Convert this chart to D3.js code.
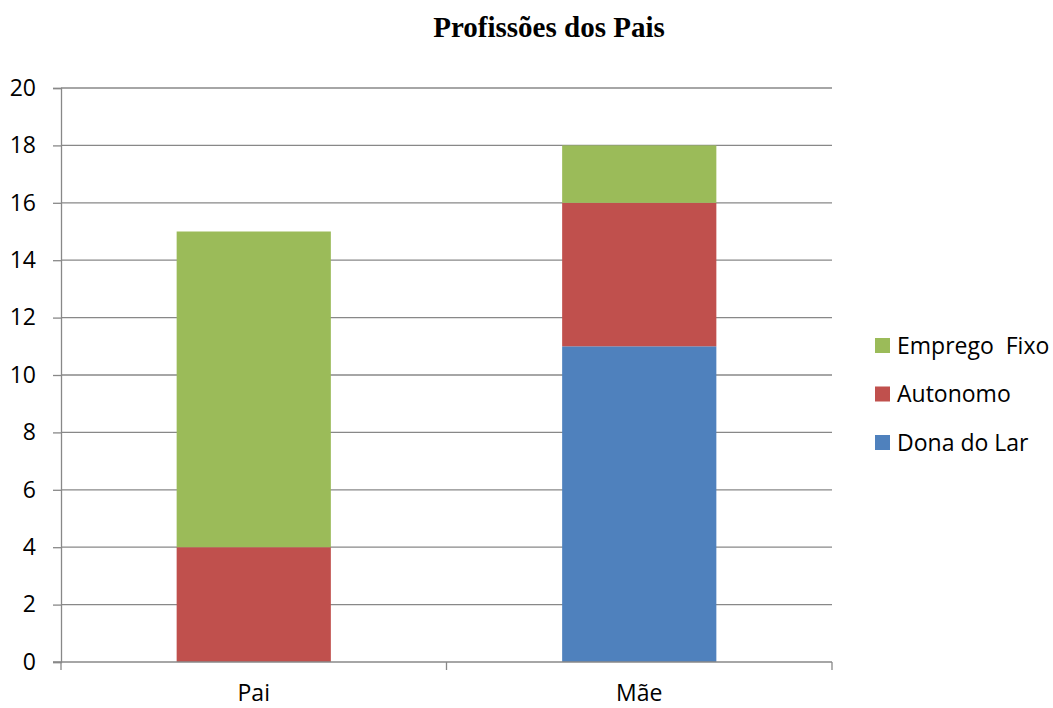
<!DOCTYPE html>
<html>
<head>
<meta charset="utf-8">
<script src="https://cdn.jsdelivr.net/npm/d3@7"></script>
<style>
  body { margin: 0; background: #fff; }
  svg { display: block; }
</style>
</head>
<body>
<svg id="chart"></svg>
<script>
// chart data
const categories = ["Pai", "Mãe"];
const seriesNames = ["Dona do Lar", "Autonomo", "Emprego  Fixo"];
const donaDoLar = [0, 11];
const autonomo = [4, 5];
const empregoFixo = [11, 2];
const yTicks = [0, 2, 4, 6, 8, 10, 12, 14, 16, 18, 20];
const colors = ["#4F81BD", "#C0504D", "#9BBB59"];

const W = 1053, H = 708;
const margin = { top: 88, right: 221, bottom: 46, left: 61 };
const width = W - margin.left - margin.right;
const height = H - margin.top - margin.bottom;
const labelFont = "'Open Sans', 'Liberation Sans', sans-serif";

const svg = d3.select("#chart").attr("width", W).attr("height", H);

// title
svg.append("text")
  .attr("x", 549)
  .attr("y", 37)
  .attr("text-anchor", "middle")
  .style("font-family", "'Liberation Serif', 'Times New Roman', serif")
  .style("font-weight", "bold")
  .style("font-size", "29px")
  .text("Profissões dos Pais");

const g = svg.append("g").attr("transform", `translate(${margin.left},${margin.top})`);

const x = d3.scaleBand().domain(categories).range([0, width]).paddingInner(0.6).paddingOuter(0.3);
const xb = d3.scaleBand().domain(categories).range([0, width]);
const y = d3.scaleLinear().domain([0, 20]).range([height, 0]);

// gridlines
g.selectAll(".grid")
  .data(yTicks.filter(d => d > 0))
  .enter().append("line")
  .attr("x1", 0).attr("x2", width)
  .attr("y1", d => y(d)).attr("y2", d => y(d))
  .attr("stroke", "#888").attr("stroke-width", 1.3);

// stacked bars
const rows = categories.map((c, i) => ({
  cat: c,
  "Dona do Lar": donaDoLar[i],
  "Autonomo": autonomo[i],
  "Emprego  Fixo": empregoFixo[i]
}));
const stack = d3.stack().keys(seriesNames)(rows);

g.selectAll(".layer")
  .data(stack)
  .enter().append("g")
  .attr("fill", (d, i) => colors[i])
  .selectAll("rect")
  .data(d => d)
  .enter().append("rect")
  .attr("x", d => x(d.data.cat))
  .attr("width", x.bandwidth())
  .attr("y", d => y(d[1]))
  .attr("height", d => y(d[0]) - y(d[1]));

// y axis
const yAxis = g.append("g")
  .call(d3.axisLeft(y).tickValues(yTicks).tickSize(8).tickPadding(17));
yAxis.select(".domain").attr("stroke", "#888").attr("stroke-width", 1.3);
yAxis.selectAll(".tick line").attr("stroke", "#888").attr("stroke-width", 1.3);
yAxis.selectAll("text")
  .style("font-family", labelFont)
  .style("font-size", "23px")
  .attr("fill", "#000");

// x axis
const xAxisG = g.append("g").attr("transform", `translate(0,${height})`);
xAxisG.append("line")
  .attr("x1", -8).attr("x2", width)
  .attr("stroke", "#888").attr("stroke-width", 1.3);
xAxisG.selectAll(".xtick")
  .data([0, width / 2, width])
  .enter().append("line")
  .attr("x1", d => d).attr("x2", d => d)
  .attr("y1", 0).attr("y2", 8)
  .attr("stroke", "#888").attr("stroke-width", 1.3);
xAxisG.selectAll(".xlabel")
  .data(categories)
  .enter().append("text")
  .attr("x", d => xb(d) + xb.bandwidth() / 2)
  .attr("y", 39)
  .attr("text-anchor", "middle")
  .style("font-family", labelFont)
  .style("font-size", "23px")
  .text(d => d);

// legend
const legendOrder = [2, 1, 0];
const legend = svg.append("g").attr("transform", "translate(875,338)");
const items = legend.selectAll(".item")
  .data(legendOrder)
  .enter().append("g")
  .attr("transform", (d, i) => `translate(0,${i * 48.5})`);
items.append("rect")
  .attr("width", 15).attr("height", 15)
  .attr("fill", d => colors[d]);
items.append("text")
  .attr("x", 22)
  .attr("y", 7.5)
  .attr("dy", ".35em")
  .attr("xml:space", "preserve")
  .style("white-space", "pre")
  .style("font-family", labelFont)
  .style("font-size", "23px")
  .text(d => seriesNames[d]);
</script>
</body>
</html>
